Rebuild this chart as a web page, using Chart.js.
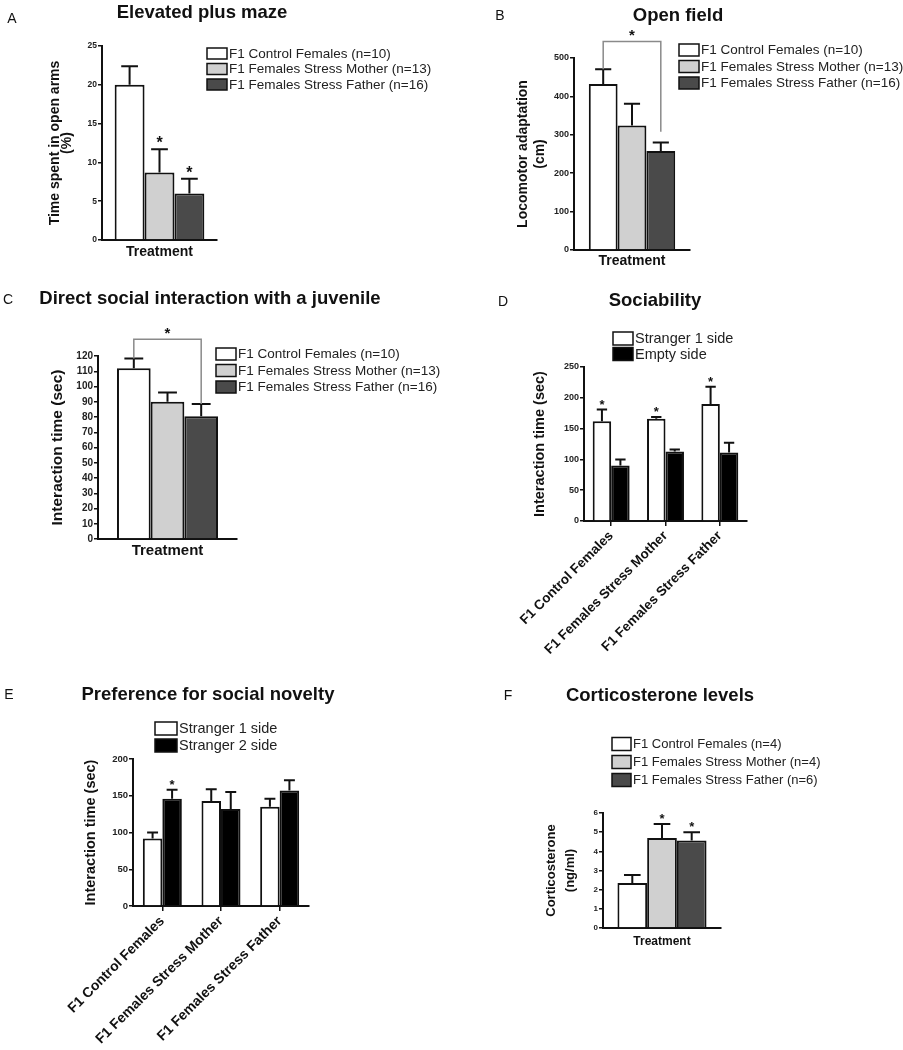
<!DOCTYPE html>
<html>
<head>
<meta charset="utf-8">
<title>F1 females: behaviour and corticosterone</title>
<script src="https://cdn.jsdelivr.net/npm/chart.js@4.4.1/dist/chart.umd.min.js"></script>
<style>
  body { margin: 0; background: #fff; }
  #page { position: relative; width: 903px; height: 1050px; overflow: hidden;
          font-family: 'Liberation Sans', Arial, sans-serif; color: #111; }
  #page canvas { position: absolute; left: 0; top: 0; }
  .letter, .title { position: absolute; line-height: 1; white-space: nowrap; transform: translate(-50%, -50%); }
  .letter { font-size: 14px; }
  .title { font-size: 18.5px; font-weight: bold; }
</style>
</head>
<body>
<div id="page">
  <canvas id="chartA" width="903" height="1050"></canvas>
  <canvas id="chartB" width="903" height="1050"></canvas>
  <canvas id="chartC" width="903" height="1050"></canvas>
  <canvas id="chartD" width="903" height="1050"></canvas>
  <canvas id="chartE" width="903" height="1050"></canvas>
  <canvas id="chartF" width="903" height="1050"></canvas>

  <div class="letter" style="left:12px;top:18px">A</div>
  <div class="title" style="left:202px;top:12px">Elevated plus maze</div>
  <div class="letter" style="left:500px;top:15px">B</div>
  <div class="title" style="left:678px;top:15px">Open field</div>
  <div class="letter" style="left:8px;top:299px">C</div>
  <div class="title" style="left:210px;top:298px">Direct social interaction with a juvenile</div>
  <div class="letter" style="left:503px;top:301px">D</div>
  <div class="title" style="left:655px;top:300px">Sociability</div>
  <div class="letter" style="left:9px;top:694px">E</div>
  <div class="title" style="left:208px;top:694px">Preference for social novelty</div>
  <div class="letter" style="left:508px;top:695px">F</div>
  <div class="title" style="left:660px;top:695px">Corticosterone levels</div>
</div>
<script>
// Groups used in the single-category panels (A, B, C)
const groups = ['F1 Control Females (n=10)', 'F1 Females Stress Mother (n=13)', 'F1 Females Stress Father (n=16)'];
const groupsF = ['F1 Control Females (n=4)', 'F1 Females Stress Mother (n=4)', 'F1 Females Stress Father (n=6)'];
// Categories for the three-chamber panels (D, E)
const cats = ['F1 Control Females', 'F1 Females Stress Mother', 'F1 Females Stress Father'];

// A - Elevated plus maze (% time in open arms)
const meanA = [20, 8.7, 6.0];
const semA = [2.4, 3.0, 1.9];
const starA = [false, true, true];
const yTicksA = [0, 5, 10, 15, 20, 25];

// B - Open field (cm)
const meanB = [432, 324, 258];
const semB = [39, 57, 22];
const starB = [false, false, false];
const yTicksB = [0, 100, 200, 300, 400, 500];

// C - Direct social interaction (sec)
const meanC = [112, 90, 80.5];
const semC = [6.3, 6, 8];
const starC = [false, false, false];
const yTicksC = [0, 10, 20, 30, 40, 50, 60, 70, 80, 90, 100, 110, 120];

// D - Sociability (sec)
const seriesD = ['Stranger 1 side', 'Empty side'];
const strangerD = [162, 166, 190];
const strangerSemD = [19, 3, 28];
const strangerStarD = [true, true, true];
const emptyD = [90, 113, 111];
const emptySemD = [10, 3, 16];
const emptyStarD = [false, false, false];
const yTicksD = [0, 50, 100, 150, 200, 250];

// E - Preference for social novelty (sec)
const seriesE = ['Stranger 1 side', 'Stranger 2 side'];
const stranger1E = [92, 143, 135];
const stranger1SemE = [8, 16, 11];
const stranger1StarE = [false, false, false];
const stranger2E = [146, 132, 157];
const stranger2SemE = [12, 23, 14];
const stranger2StarE = [true, false, false];
const yTicksE = [0, 50, 100, 150, 200];

// F - Corticosterone (ng/ml)
const meanF = [2.35, 4.7, 4.57];
const semF = [0.42, 0.72, 0.42];
const starF = [false, true, true];
const yTicksF = [0, 1, 2, 3, 4, 5, 6];

const FONT = "'Liberation Sans', Arial, sans-serif";
const INK = '#111';
const fills3 = ['#ffffff', '#d0d0d0', '#4a4a4a'];
const fills2 = ['#ffffff', '#000000'];

// one dataset per group, each with a single bar over "Treatment"
function groupSets(names, means, sems, stars) {
  return names.map((name, i) => ({
    label: name, data: [means[i]], sem: [sems[i]], stars: [stars[i]], backgroundColor: fills3[i]
  }));
}

// error bars, significance stars, brackets and the boxed legend
const extras = {
  id: 'extras',
  afterDatasetsDraw(chart, args, opts) {
    const ctx = chart.ctx;
    const y = chart.scales.y;
    ctx.save();
    ctx.strokeStyle = INK;
    ctx.fillStyle = INK;
    ctx.lineWidth = 2;
    chart.data.datasets.forEach((ds, i) => {
      chart.getDatasetMeta(i).data.forEach((bar, j) => {
        const top = y.getPixelForValue(ds.data[j] + ds.sem[j]);
        const half = bar.width * 0.28;
        ctx.beginPath();
        ctx.moveTo(bar.x, bar.y);
        ctx.lineTo(bar.x, top);
        ctx.moveTo(bar.x - half, top);
        ctx.lineTo(bar.x + half, top);
        ctx.stroke();
        if (ds.stars[j]) {
          ctx.font = 'bold ' + opts.starSize + 'px ' + FONT;
          ctx.textAlign = 'center';
          ctx.textBaseline = 'alphabetic';
          ctx.fillText('*', bar.x, top - 1);
        }
      });
    });

    const b = opts.bracket;
    if (b) {
      const x0 = chart.getDatasetMeta(b.from).data[0].x;
      const x1 = chart.getDatasetMeta(b.to).data[0].x;
      const yt = y.getPixelForValue(b.top);
      ctx.strokeStyle = '#8a8a8a';
      ctx.lineWidth = 1.5;
      ctx.beginPath();
      ctx.moveTo(x0, y.getPixelForValue(b.leftEnd));
      ctx.lineTo(x0, yt);
      ctx.lineTo(x1, yt);
      ctx.lineTo(x1, y.getPixelForValue(b.rightEnd));
      ctx.stroke();
      ctx.font = 'bold ' + opts.starSize + 'px ' + FONT;
      ctx.textAlign = 'center';
      ctx.textBaseline = 'alphabetic';
      ctx.fillText('*', (x0 + x1) / 2, yt - 1);
    }

    const lg = opts.legend;
    ctx.font = lg.size + 'px ' + FONT;
    ctx.textAlign = 'left';
    ctx.textBaseline = 'middle';
    ctx.lineWidth = 1.5;
    ctx.strokeStyle = INK;
    chart.data.datasets.forEach((ds, i) => {
      const cy = lg.y + i * lg.row;
      ctx.fillStyle = ds.backgroundColor;
      ctx.fillRect(lg.x, cy - lg.h / 2, lg.w, lg.h);
      ctx.strokeRect(lg.x, cy - lg.h / 2, lg.w, lg.h);
      ctx.fillStyle = '#222';
      ctx.fillText(ds.label, lg.x + lg.w + 2, cy + 0.5);
    });
    ctx.restore();
  }
};

// every canvas covers the page; padding puts the plot area where the panel sits
function makeChart(id, p) {
  const a = p.area;
  const yW = a.l - (p.yTitleX - p.yTitleLh / 2);
  const xH = p.xTitle ? (p.xTitleY - a.b) + p.xTitleSize / 2 + 1 : p.xLabelSpace;
  p.datasets.forEach(d => Object.assign(d, {
    borderColor: INK, borderWidth: 2, categoryPercentage: p.barPct, barPercentage: 1
  }));
  const ticks = p.yTicks;
  return new Chart(document.getElementById(id), {
    type: 'bar',
    data: { labels: p.labels, datasets: p.datasets },
    options: {
      responsive: false,
      animation: false,
      layout: { padding: { left: a.l - yW, top: a.t, right: 903 - a.r, bottom: 1050 - a.b - xH } },
      plugins: {
        legend: { display: false },
        tooltip: { enabled: false },
        extras: { legend: p.legend, bracket: p.bracket, starSize: p.starSize }
      },
      scales: {
        x: {
          offset: true,
          grid: { display: !p.xTitle, drawOnChartArea: false, offset: false, tickLength: 5, color: INK, lineWidth: 1.5 },
          border: { display: true, color: INK, width: 2 },
          ticks: {
            display: !p.xTitle, minRotation: 45, maxRotation: 45, autoSkip: false, padding: 2, color: INK,
            font: { family: FONT, size: p.xLabelSize || 12, weight: 'bold' }
          },
          title: {
            display: !!p.xTitle, text: p.xTitle, color: INK, padding: { top: 0, bottom: 1 },
            font: { family: FONT, size: p.xTitleSize, weight: 'bold', lineHeight: 1 }
          },
          afterFit: s => { s.height = xH; }
        },
        y: {
          min: ticks[0],
          max: ticks[ticks.length - 1],
          ticks: {
            stepSize: ticks[1] - ticks[0], autoSkip: false, padding: 1, color: '#222',
            font: { family: FONT, size: p.yTickSize, weight: 'bold' }
          },
          grid: { drawOnChartArea: false, drawTicks: true, tickLength: 4, color: INK, lineWidth: 1.5 },
          border: { display: true, color: INK, width: 2 },
          title: {
            display: true, text: p.yTitle, color: INK, padding: { top: 0, bottom: 0 },
            font: { family: FONT, size: p.yTitleSize, weight: 'bold', lineHeight: p.yTitleLh + 'px' }
          },
          afterFit: s => { s.width = yW; }
        }
      }
    },
    plugins: [extras]
  });
}

makeChart('chartA', {
  area: { l: 102, t: 46, r: 217, b: 240 }, barPct: 0.78,
  labels: ['Treatment'], datasets: groupSets(groups, meanA, semA, starA), yTicks: yTicksA,
  yTitle: ['Time spent in open arms', '(%)'], yTitleSize: 14, yTitleLh: 12.5, yTitleX: 55, yTickSize: 8.5,
  xTitle: 'Treatment', xTitleSize: 14, xTitleY: 252.5,
  legend: { x: 207, y: 53.5, row: 15.5, w: 20, h: 11, size: 13.5 }, starSize: 16
});

makeChart('chartB', {
  area: { l: 574, t: 58, r: 690, b: 250 }, barPct: 0.745,
  labels: ['Treatment'], datasets: groupSets(groups, meanB, semB, starB), yTicks: yTicksB,
  yTitle: ['Locomotor adaptation', '(cm)'], yTitleSize: 14, yTitleLh: 17, yTitleX: 523, yTickSize: 9,
  xTitle: 'Treatment', xTitleSize: 14, xTitleY: 261,
  legend: { x: 679, y: 50, row: 16.5, w: 20, h: 12, size: 13.5 }, starSize: 15,
  bracket: { from: 0, to: 2, top: 543, leftEnd: 471, rightEnd: 308 }
});

makeChart('chartC', {
  area: { l: 98, t: 356, r: 237, b: 539 }, barPct: 0.727,
  labels: ['Treatment'], datasets: groupSets(groups, meanC, semC, starC), yTicks: yTicksC,
  yTitle: 'Interaction time (sec)', yTitleSize: 15.5, yTitleLh: 15.5, yTitleX: 57.5, yTickSize: 10,
  xTitle: 'Treatment', xTitleSize: 15, xTitleY: 551,
  legend: { x: 216, y: 354, row: 16.5, w: 20, h: 12, size: 13.5 }, starSize: 15,
  bracket: { from: 0, to: 2, top: 131, leftEnd: 118.3, rightEnd: 88.5 }
});

makeChart('chartD', {
  area: { l: 584, t: 367, r: 747, b: 521 }, barPct: 0.68,
  labels: cats, yTicks: yTicksD,
  datasets: [
    { label: seriesD[0], data: strangerD, sem: strangerSemD, stars: strangerStarD, backgroundColor: fills2[0] },
    { label: seriesD[1], data: emptyD, sem: emptySemD, stars: emptyStarD, backgroundColor: fills2[1] }
  ],
  yTitle: 'Interaction time (sec)', yTitleSize: 14.5, yTitleLh: 14.5, yTitleX: 540, yTickSize: 9,
  xLabelSize: 13.5, xLabelSpace: 175,
  legend: { x: 613, y: 338.5, row: 15.5, w: 20, h: 13, size: 14.5 }, starSize: 13
});

makeChart('chartE', {
  area: { l: 133, t: 759, r: 309, b: 906 }, barPct: 0.665,
  labels: cats, yTicks: yTicksE,
  datasets: [
    { label: seriesE[0], data: stranger1E, sem: stranger1SemE, stars: stranger1StarE, backgroundColor: fills2[0] },
    { label: seriesE[1], data: stranger2E, sem: stranger2SemE, stars: stranger2StarE, backgroundColor: fills2[1] }
  ],
  yTitle: 'Interaction time (sec)', yTitleSize: 14.5, yTitleLh: 14.5, yTitleX: 91, yTickSize: 9.5,
  xLabelSize: 14, xLabelSpace: 140,
  legend: { x: 155, y: 728.5, row: 17, w: 22, h: 13, size: 14.5 }, starSize: 13
});

makeChart('chartF', {
  area: { l: 603, t: 813, r: 721, b: 928 }, barPct: 0.755,
  labels: ['Treatment'], datasets: groupSets(groupsF, meanF, semF, starF), yTicks: yTicksF,
  yTitle: ['Corticosterone', '(ng/ml)'], yTitleSize: 13, yTitleLh: 19, yTitleX: 551, yTickSize: 8,
  xTitle: 'Treatment', xTitleSize: 12, xTitleY: 941.5,
  legend: { x: 612, y: 744, row: 18, w: 19, h: 13, size: 13 }, starSize: 13
});
</script>
</body>
</html>
